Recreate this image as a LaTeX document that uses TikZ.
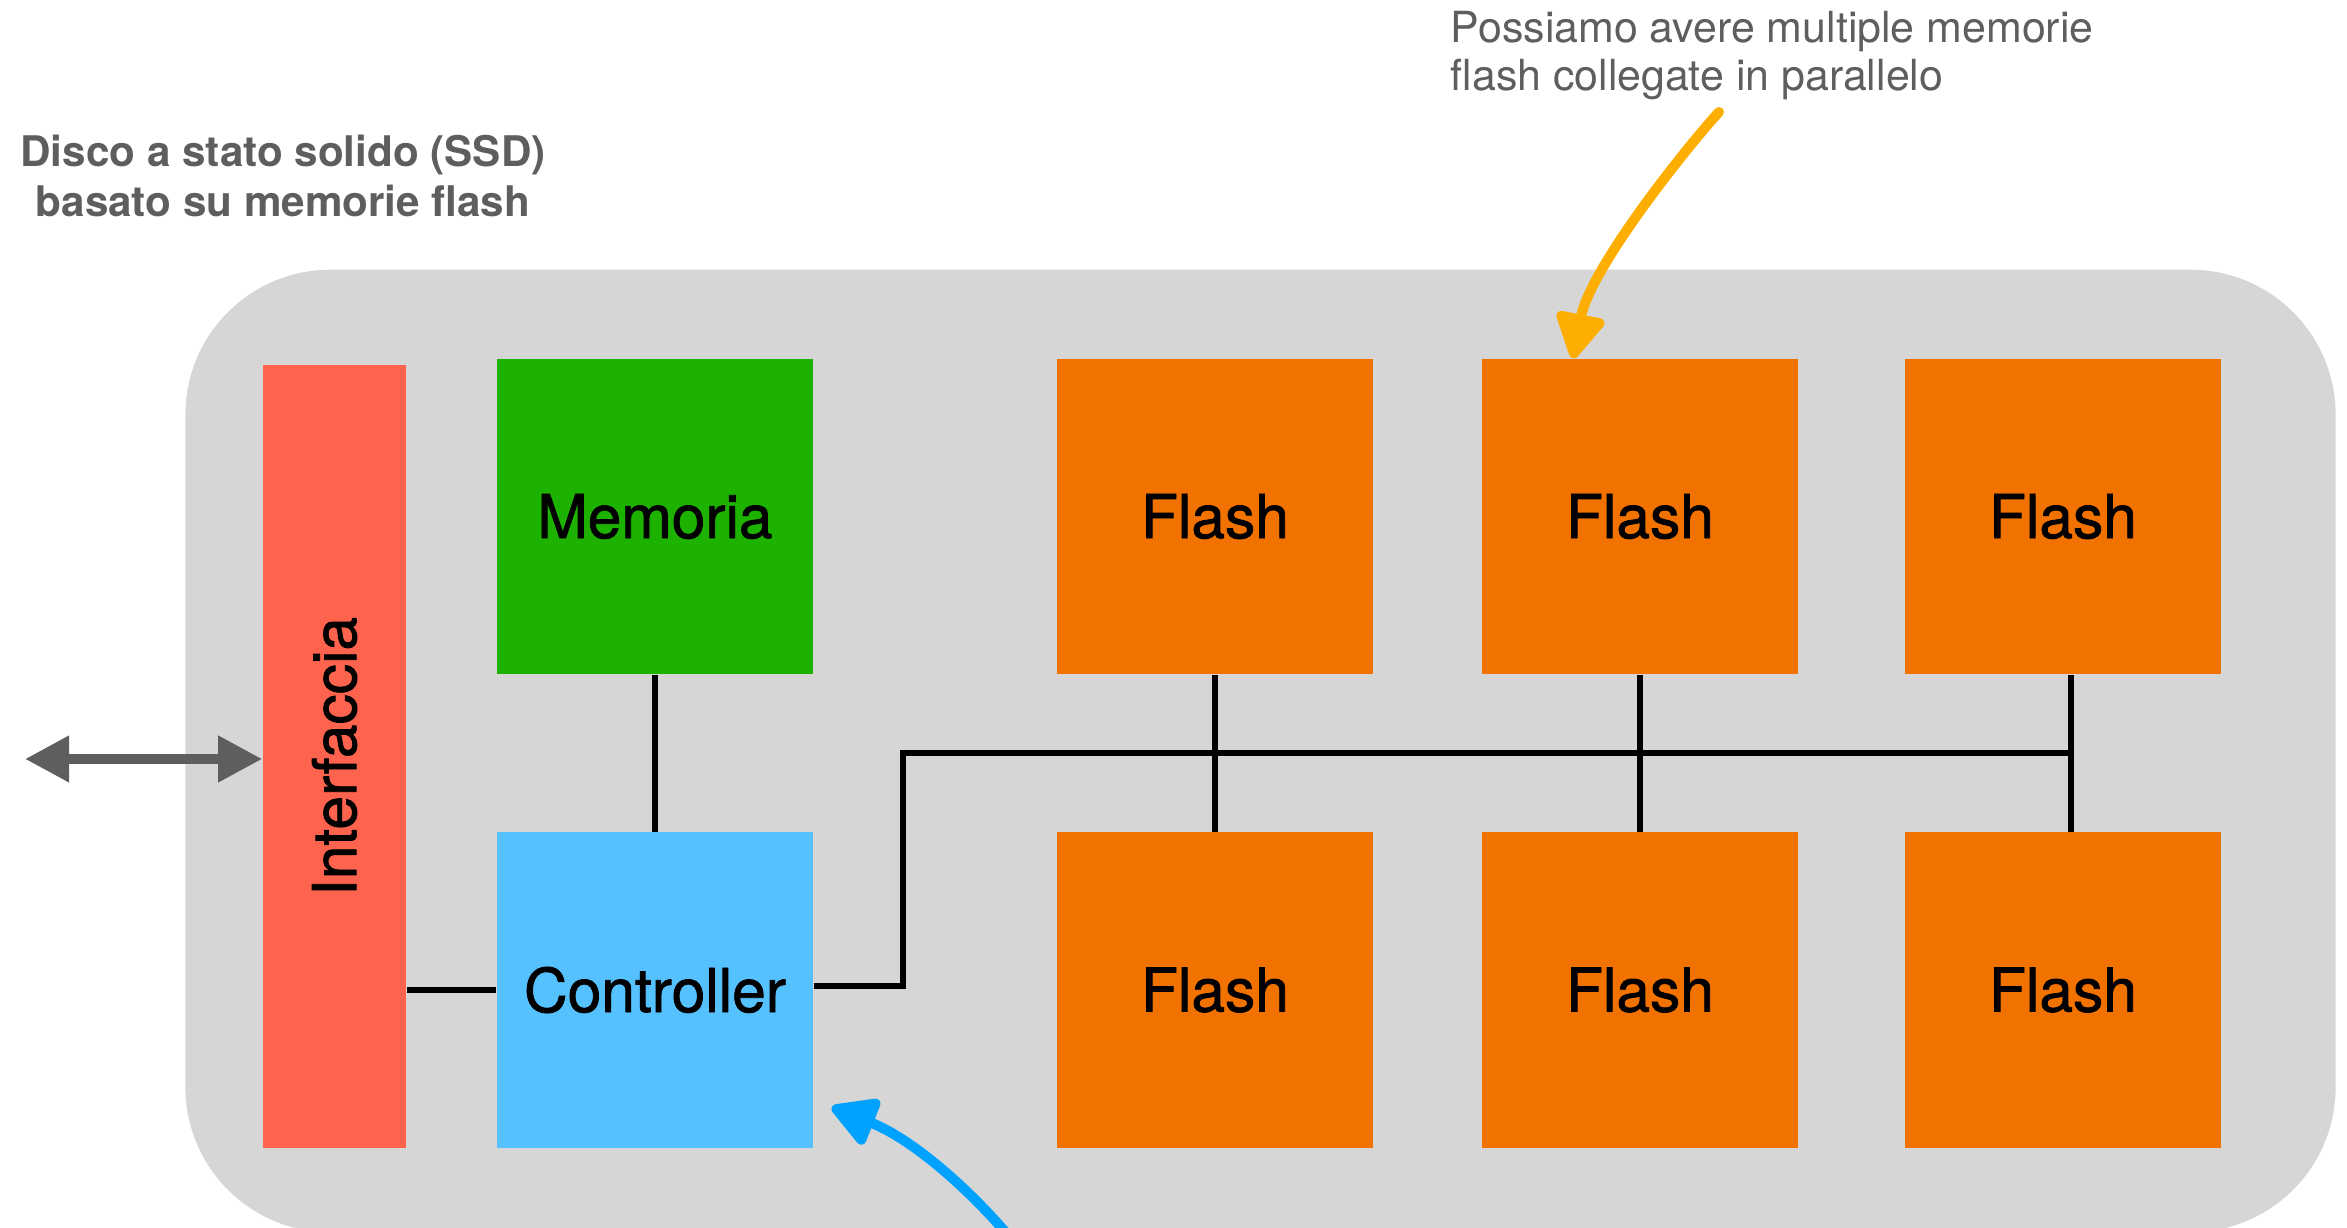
\documentclass[tikz,border=0pt]{standalone}
\usepackage{fontspec}
\setmainfont{TeX Gyre Heros}
\newfontfamily\boxfont{TeX Gyre Heros}[FakeBold=1.3]
\usetikzlibrary{arrows.meta}

\definecolor{panel}{HTML}{D6D6D6}
\definecolor{iface}{HTML}{FE634E}
\definecolor{memgreen}{HTML}{1DB100}
\definecolor{ctrlblue}{HTML}{56C1FF}
\definecolor{flashor}{HTML}{F27200}
\definecolor{notegray}{HTML}{5E5E5E}
\definecolor{amber}{HTML}{FEAE00}
\definecolor{azure}{HTML}{00A2FF}

\begin{document}
\begin{tikzpicture}[x=0.01cm,y=-0.01cm,
  panelbox/.style={fill=panel, draw=none, rounded corners=1.45cm,
    minimum width=21.49cm, minimum height=9.62cm, inner sep=0pt},
  block/.style={draw=none, inner sep=0pt, minimum width=3.16cm,
    minimum height=3.15cm, text=black, font=\boxfont\fontsize{17.2}{20}\selectfont},
  blocklabel/.style={inner sep=0pt, text=black, font=\boxfont\fontsize{17.2}{20}\selectfont},
  wire/.style={draw=black, line width=1.6pt},
  title/.style={inner sep=0pt, text=notegray, font=\fontsize{12}{14}\selectfont\bfseries},
  note/.style={inner sep=0pt, text=notegray, font=\fontsize{12.2}{14}\selectfont},
  handarrow/.style={line width=2.85pt, line cap=round,
    -{Triangle[length=0.5cm,width=0.53cm,round]}},
  biarrow/.style={draw=notegray, line width=2.85pt,
    {Triangle[length=0.44cm,width=0.44cm]}-{Triangle[length=0.44cm,width=0.44cm]}}
]
\useasboundingbox (0,0) rectangle (2347,1228);
\clip (0,0) rectangle (2347,1228);

% SSD enclosure
\node[panelbox] (ssd) at (1260.5,751) {};

% interface strip
\node[block, fill=iface, minimum width=1.43cm, minimum height=7.83cm] (intf) at (334.5,756.5) {};
\node[blocklabel, rotate=90] (intflabel) at (intf.center) {Interfaccia};

% memory and controller
\node[block, fill=memgreen] (mem) at (655,516.5) {Memoria};
\node[block, fill=ctrlblue] (ctrl) at (655,990) {Controller};

% flash chips
\node[block, fill=flashor] (f1t) at (1215,516.5) {Flash};
\node[block, fill=flashor] (f2t) at (1640,516.5) {Flash};
\node[block, fill=flashor] (f3t) at (2063,516.5) {Flash};
\node[block, fill=flashor] (f1b) at (1215,990) {Flash};
\node[block, fill=flashor] (f2b) at (1640,990) {Flash};
\node[block, fill=flashor] (f3b) at (2063,990) {Flash};

% wiring
\draw[wire] (intf.east |- ctrl.west) -- (ctrl.west);
\draw[wire] (mem.south) -- (ctrl.north);
\coordinate (busL) at (903,753);
\coordinate (busR) at (2071,753);
\draw[wire] ([yshift=0.04cm]ctrl.east) -| (busL) -- (busR);
\draw[wire] (f1t.south) -- (f1b.north);
\draw[wire] (f2t.south) -- (f2b.north);
\draw[wire] ([xshift=0.08cm]f3t.south) -- ([xshift=0.08cm]f3b.north);

% external link
\coordinate (ext) at (25,759);
\draw[biarrow] (ext) -- (intf.west |- ext);

% captions
\node[title, anchor=base] (title1) at (283,167) {Disco a stato solido (SSD)};
\node[title, anchor=base] (title2) at (283,217) {basato su memorie flash};
\node[note, anchor=base west] (note1) at (1450,43) {Possiamo avere multiple memorie};
\node[note, anchor=base west] (note2) at (1450,91) {flash collegate in parallelo};

% hand-drawn pointers
\coordinate (noteTail) at (1719,112);
\coordinate (noteTip) at ([xshift=-0.67cm]f2t.north);
\draw[handarrow, amber] (noteTail) .. controls (1680,155) and (1590,270) .. (noteTip);

\coordinate (hintTail) at (1012,1240);
\coordinate (hintTip) at ([xshift=0.18cm,yshift=0.41cm]ctrl.south east);
\draw[handarrow, azure] (hintTail) .. controls (975,1195) and (915,1140) .. (hintTip);
\end{tikzpicture}
\end{document}
